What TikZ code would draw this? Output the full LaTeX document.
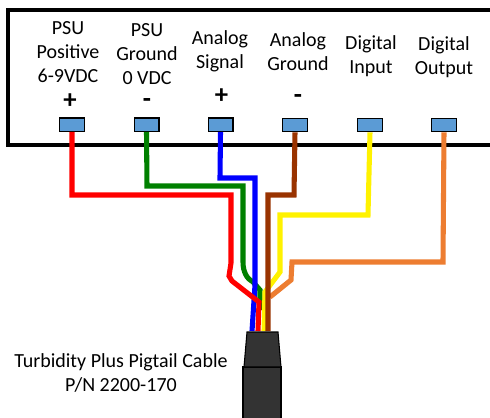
\documentclass[tikz,border=0pt]{standalone}
\usepackage{fontspec}
\setmainfont{Carlito}
\definecolor{padblue}{HTML}{5B9BD5}
\definecolor{wgreen}{HTML}{008000}
\definecolor{wbrown}{HTML}{993300}
\definecolor{worange}{HTML}{ED7D31}
\definecolor{cab}{HTML}{333333}
\tikzset{
 x=0.75pt,y=-0.75pt,
 pad/.style={draw=black,line width=1pt,fill=padblue,minimum width=18.5pt,minimum height=10pt,inner sep=0pt},
 lab/.style={align=center,font=\fontsize{15}{18}\selectfont,inner sep=0pt},
 sign/.style={font=\bfseries\fontsize{20}{20}\selectfont,inner sep=0pt},
 wire/.style={line width=3.8pt,line join=miter},
 cablepart/.style={fill=cab,draw=black,line width=0.8pt}
}
\begin{document}
\begin{tikzpicture}
\useasboundingbox (0,0) rectangle (490,418);
\fill[white] (0,0) rectangle (490,418);
\draw[line width=3pt] (490,9.5) -- (8,9.5) -- (8,145) -- (490,145);
\node[pad] (p1) at (72,124.5) {};
\node[pad] (p2) at (146.5,124.5) {};
\node[pad] (p3) at (220.5,124.5) {};
\node[pad] (p4) at (295,125) {};
\node[pad] (p5) at (370,125) {};
\node[pad] (p6) at (444,125) {};
\node[lab] (l1) at (68,52.5) {PSU\\Positive\\6-9VDC};
\node[lab] (l2) at (147,54) {PSU\\Ground\\0 VDC};
\node[lab] (l3) at (220,51.5) {Analog\\Signal};
\node[lab] (l4) at (298,51.5) {Analog\\Ground};
\node[lab] (l5) at (371,56) {Digital\\Input};
\node[lab] (l6) at (444,57) {Digital\\Output};
\node[sign] (s1) at (70,101) {+};
\node[sign] (s2) at (147,103.5) {-};
\node[sign] (s3) at (221.5,96) {+};
\node[sign] (s4) at (298,99) {-};
\draw[wire,wgreen] (p2.south) -- (147,186) -- (243,186) -- (243,262) .. controls (243,272) and (247,279) .. (253,282) -- (260,290) -- (260,310);
\draw[wire,blue] (p3.south) -- (220,178) -- (255,178) -- (255,285) -- (252,331);
\draw[wire,yellow] (p5.south) -- (368,215) -- (280,215) -- (280,272) -- (265,292) -- (264,331);
\draw[wire,worange] (p6.south) -- (443,262) -- (292,262) -- (291,280) -- (270,297);
\draw[wire,wbrown] (p4.south) -- (294,195) -- (268,195) -- (268,331);
\draw[wire,red] (p1.south) -- (72,195) -- (231,195) -- (231,263) -- (229,276) -- (232,281) -- (259,302) -- (258,331);
\draw[cablepart] (243,418) -- (243,367) -- (281,367) -- (281,418);
\draw[cablepart] (247,332) -- (278,332) -- (281,367) -- (244,367) -- cycle;
\node[font=\fontsize{15}{18}\selectfont,align=center,inner sep=0pt] (t) at (121,373) {Turbidity Plus Pigtail Cable\\P/N 2200-170};
\end{tikzpicture}
\end{document}
